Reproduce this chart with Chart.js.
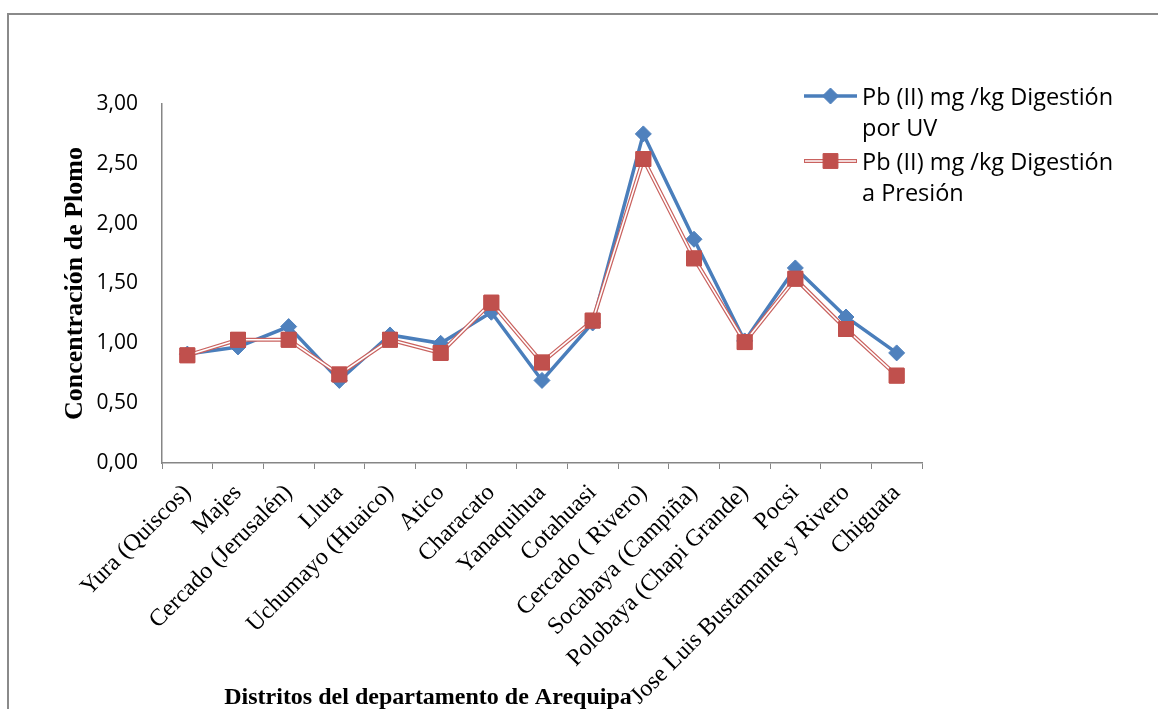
<!DOCTYPE html>
<html lang="es">
<head>
    <meta charset="UTF-8">
    <title>Concentración de Plomo por distrito</title>
    <script src="https://cdn.jsdelivr.net/npm/chart.js"></script>
    <style>
        html, body {
            margin: 0;
            padding: 0;
            background: #fff;
            overflow: hidden;
        }

        .frame {
            position: absolute;
            left: 7px;
            top: 13px;
            width: 1300px;
            height: 900px;
            border-left: 2px solid #8a8a8a;
            border-top: 2px solid #8a8a8a;
        }

        .chart-box {
            position: absolute;
            left: 0;
            top: 0;
        }
    </style>
</head>
<body>
    <div class="frame"></div>
    <div class="chart-box">
        <canvas id="chart" width="1158" height="709"></canvas>
    </div>

    <script>
        // districts (x categories)
        const distritos = [
            'Yura (Quiscos)', 'Majes', 'Cercado (Jerusalén)', 'Lluta', 'Uchumayo (Huaico)',
            'Atico', 'Characato', 'Yanaquihua', 'Cotahuasi', 'Cercado ( Rivero)',
            'Socabaya (Campiña)', 'Polobaya (Chapi Grande)', 'Pocsi',
            'Jose Luis Bustamante y Rivero', 'Chiguata'
        ];

        // Pb (II) mg/kg
        const pbUV = [0.91, 0.97, 1.14, 0.69, 1.07, 1.00, 1.26, 0.69, 1.17, 2.75, 1.87, 1.02, 1.63, 1.22, 0.92];
        const pbPresion = [0.90, 1.03, 1.03, 0.74, 1.03, 0.92, 1.34, 0.84, 1.19, 2.54, 1.71, 1.01, 1.54, 1.12, 0.73];

        const serieLabels = ['Pb (II) mg /kg Digestión por UV', 'Pb (II) mg /kg Digestión a Presión'];

        // y axis range
        const yMin = 0;
        const yMax = 3;
        const yStep = 0.5;

        const xTitle = 'Distritos del departamento de Arequipa';
        const yTitle = 'Concentración de Plomo';

        // red series is drawn as a double line (red edges, white core)
        const doubleLine = {
            id: 'doubleLine',
            afterDatasetDraw(chart, args) {
                const ds = chart.data.datasets[args.index];
                if (!ds.doubleLine) return;
                const pts = args.meta.data;
                const ctx = chart.ctx;
                ctx.save();
                ctx.strokeStyle = '#fff';
                ctx.lineWidth = 1.6;
                ctx.lineJoin = 'round';
                ctx.beginPath();
                pts.forEach((p, i) => i ? ctx.lineTo(p.x, p.y) : ctx.moveTo(p.x, p.y));
                ctx.stroke();
                pts.forEach(p => p.draw(ctx, chart.chartArea));
                ctx.restore();
            }
        };

        function wrapText(ctx, text, maxWidth) {
            const words = text.split(' ');
            const lines = [];
            let cur = '';
            words.forEach(w => {
                const test = cur ? cur + ' ' + w : w;
                if (ctx.measureText(test).width > maxWidth && cur) {
                    lines.push(cur);
                    cur = w;
                } else {
                    cur = test;
                }
            });
            if (cur) lines.push(cur);
            return lines;
        }

        // legend on the right with wrapped labels, plus the x axis title
        const sideLegend = {
            id: 'sideLegend',
            afterDraw(chart, args, opts) {
                const ctx = chart.ctx;
                ctx.save();
                ctx.font = '23.5px "Open Sans"';
                ctx.textBaseline = 'alphabetic';
                ctx.textAlign = 'left';
                let base = opts.top;
                chart.data.datasets.forEach(ds => {
                    const lines = wrapText(ctx, ds.label, opts.maxWidth);
                    const my = base - 9;
                    ctx.strokeStyle = ds.borderColor;
                    ctx.lineWidth = ds.borderWidth;
                    ctx.beginPath();
                    ctx.moveTo(opts.x0, my);
                    ctx.lineTo(opts.x1, my);
                    ctx.stroke();
                    if (ds.doubleLine) {
                        ctx.strokeStyle = '#fff';
                        ctx.lineWidth = 1.6;
                        ctx.beginPath();
                        ctx.moveTo(opts.x0 + 1, my);
                        ctx.lineTo(opts.x1 - 1, my);
                        ctx.stroke();
                    }
                    ctx.fillStyle = ds.pointBackgroundColor;
                    ctx.strokeStyle = ds.pointBorderColor;
                    ctx.lineWidth = 1;
                    Chart.helpers.drawPoint(ctx, {
                        pointStyle: ds.pointStyle,
                        radius: ds.pointRadius,
                        borderWidth: 1
                    }, (opts.x0 + opts.x1) / 2, my);

                    ctx.fillStyle = '#000';
                    lines.forEach((ln, i) => {
                        ctx.fillText(ln, opts.textX, base + i * opts.lineHeight);
                    });
                    base += lines.length * opts.lineHeight + opts.gap;
                });

                ctx.font = 'bold 24px "Liberation Serif"';
                ctx.textAlign = 'center';
                ctx.fillText(xTitle, opts.xTitleX, opts.xTitleY);
                ctx.restore();
            }
        };

        new Chart(document.getElementById('chart'), {
            type: 'line',
            data: {
                labels: distritos,
                datasets: [{
                    label: serieLabels[0],
                    data: pbUV,
                    order: 2,
                    borderColor: '#4A7EBB',
                    borderWidth: 3.5,
                    pointStyle: 'rectRot',
                    pointRadius: 8,
                    pointBackgroundColor: '#4F81BD',
                    pointBorderColor: '#4F81BD',
                    pointBorderWidth: 1,
                    tension: 0
                }, {
                    label: serieLabels[1],
                    data: pbPresion,
                    order: 1,
                    doubleLine: true,
                    borderColor: '#C9625F',
                    borderWidth: 4,
                    pointStyle: 'rect',
                    pointRadius: 10.5,
                    pointBackgroundColor: '#C0504D',
                    pointBorderColor: '#C0504D',
                    pointBorderWidth: 1,
                    tension: 0
                }]
            },
            options: {
                responsive: false,
                animation: false,
                layout: {
                    padding: { top: 104, right: 236, left: 0, bottom: 0 }
                },
                plugins: {
                    legend: { display: false },
                    tooltip: { enabled: false },
                    sideLegend: {
                        top: 105,
                        x0: 804,
                        x1: 857,
                        textX: 862,
                        maxWidth: 262,
                        lineHeight: 31,
                        gap: 3,
                        xTitleX: 428,
                        xTitleY: 704
                    }
                },
                scales: {
                    x: {
                        offset: true,
                        grid: {
                            offset: true,
                            drawOnChartArea: false,
                            tickLength: 6,
                            color: '#868686'
                        },
                        border: { color: '#868686', width: 1.5 },
                        ticks: {
                            autoSkip: false,
                            minRotation: 45,
                            maxRotation: 45,
                            padding: 10,
                            color: '#000',
                            font: { family: '"Liberation Serif"', size: 24 }
                        },
                        afterFit(scale) {
                            scale.height = 246;
                        }
                    },
                    y: {
                        min: yMin,
                        max: yMax,
                        grid: {
                            drawOnChartArea: false,
                            drawTicks: false
                        },
                        border: { color: '#868686', width: 1.5 },
                        ticks: {
                            stepSize: yStep,
                            padding: 24,
                            color: '#000',
                            font: { family: '"Open Sans"', size: 21 },
                            callback: v => v.toFixed(2).replace('.', ',')
                        },
                        title: {
                            display: true,
                            text: yTitle,
                            color: '#000',
                            padding: { top: 60, bottom: 0 },
                            font: { family: '"Liberation Serif"', size: 26, weight: 'bold' }
                        },
                        afterFit(scale) {
                            scale.width = 162;
                        }
                    }
                }
            },
            plugins: [doubleLine, sideLegend]
        });
    </script>
</body>
</html>
